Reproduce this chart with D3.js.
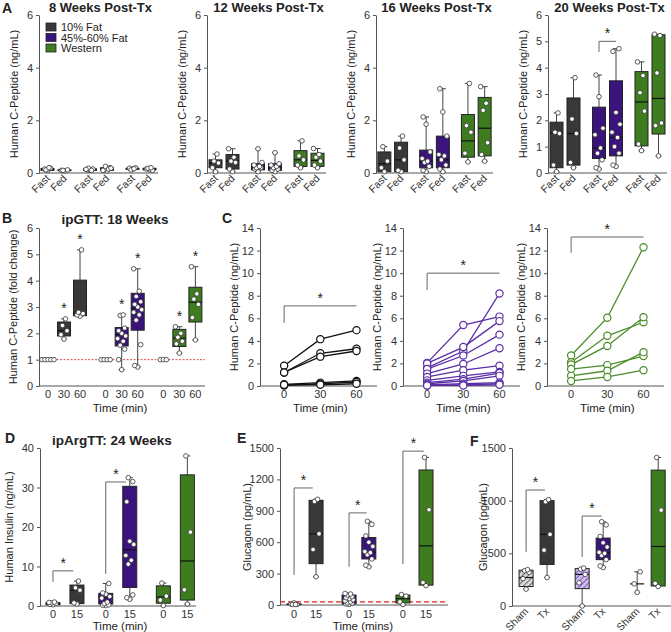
<!DOCTYPE html>
<html>
<head>
<meta charset="utf-8">
<script src="https://cdn.jsdelivr.net/npm/d3@7"></script>
<style>
  body { margin: 0; background: #fff; }
  svg { font-family: 'Liberation Sans', Arial, sans-serif; }
</style>
</head>
<body>
<div id="fig"></div>
<script>
// ---------------- data ----------------
const dietGroups = ['10% Fat', '45%-60% Fat', 'Western'];
const fastFed = ['Fast', 'Fed', 'Fast', 'Fed', 'Fast', 'Fed'];
const aTitles = ['8 Weeks Post-Tx', '12 Weeks Post-Tx', '16 Weeks Post-Tx', '20 Weeks Post-Tx'];

// box stats: [min, q1, median, q3, max] per box (Fast/Fed x 3 diets)
const a8Stats = [[0.08, 0.1, 0.14, 0.17, 0.2], [0.08, 0.09, 0.1, 0.12, 0.12], [0.08, 0.1, 0.13, 0.16, 0.18],
  [0.08, 0.1, 0.15, 0.2, 0.25], [0.12, 0.14, 0.16, 0.18, 0.2], [0.1, 0.12, 0.15, 0.18, 0.2]];
const a8Points = [[0.1, 0.15, 0.18, 0.12, 0.2], [0.08, 0.1, 0.12, 0.1], [0.1, 0.12, 0.15, 0.18, 0.1, 0.14],
  [0.08, 0.12, 0.2, 0.25, 0.15, 0.1, 0.18], [0.15, 0.18, 0.2, 0.12, 0.16], [0.12, 0.15, 0.1, 0.18, 0.2]];
const a12Stats = [[0.05, 0.2, 0.38, 0.5, 0.72], [0.05, 0.15, 0.45, 0.7, 0.92], [0.05, 0.12, 0.2, 0.35, 0.92],
  [0.05, 0.1, 0.2, 0.35, 0.77], [0.2, 0.25, 0.5, 0.85, 1.22], [0.2, 0.25, 0.48, 0.75, 0.93]];
const a12Points = [[0.05, 0.2, 0.38, 0.45, 0.72], [0.05, 0.15, 0.4, 0.45, 0.6, 0.92], [0.05, 0.15, 0.2, 0.2, 0.25, 0.3, 0.4, 0.92],
  [0.05, 0.1, 0.15, 0.2, 0.25, 0.3, 0.35, 0.77], [0.2, 0.3, 0.5, 0.65, 1.22], [0.2, 0.3, 0.45, 0.6, 0.7, 0.93]];
const a16Stats = [[0.05, 0.05, 0.35, 0.8, 1.0], [0.05, 0.05, 0.5, 1.17, 1.4], [0.05, 0.2, 0.45, 0.87, 2.13],
  [0.05, 0.2, 0.5, 1.4, 3.2], [0.42, 0.6, 1.22, 2.22, 3.4], [0.45, 0.65, 1.7, 2.87, 3.28]];
const a16Points = [[0.05, 0.2, 0.45, 1.0], [0.05, 0.1, 0.5, 0.95, 1.4], [0.05, 0.1, 0.25, 0.4, 0.45, 0.55, 0.8, 1.85, 2.13],
  [0.05, 0.15, 0.3, 0.5, 0.65, 0.7, 1.4, 2.32, 3.2], [0.42, 0.75, 1.55, 1.8, 3.4], [0.45, 0.7, 1.15, 2.38, 2.65, 3.28]];
const a20Stats = [[0.05, 0.2, 1.52, 1.93, 2.28], [0.2, 0.3, 1.5, 2.85, 3.62], [0.15, 0.55, 0.95, 2.5, 3.72],
  [0.25, 0.65, 1.35, 3.5, 4.72], [0.85, 1.03, 2.7, 3.85, 4.22], [0.65, 1.48, 2.83, 5.25, 5.27]];
const a20Points = [[0.05, 0.3, 1.5, 1.55, 2.28], [0.2, 0.4, 1.5, 2.05, 3.62], [0.15, 0.2, 0.5, 0.75, 0.95, 1.45, 1.7, 2.9, 3.72],
  [0.25, 0.3, 0.75, 1.0, 1.35, 1.55, 1.85, 2.3, 4.62, 4.72], [0.85, 1.1, 2.35, 3.05, 3.7, 4.22], [0.65, 1.8, 1.9, 3.8, 5.22, 5.27]];

// B: ipGTT fold change, times 0/30/60 for each diet
const bTimes = ['0', '30', '60'];
const bStats = [null, [1.78, 1.9, 2.1, 2.43, 2.55], [2.65, 2.67, 2.75, 4.02, 5.17],
  null, [0.62, 1.52, 1.95, 2.22, 2.7], [0.72, 2.12, 2.95, 3.52, 4.45],
  null, [1.25, 1.5, 1.82, 2.15, 2.25], [1.75, 2.43, 3.18, 3.75, 4.53]];
const bPoints = [[1, 1, 1, 1, 1], [1.78, 1.95, 2.1, 2.3, 2.55], [2.65, 2.7, 2.75, 2.8, 5.17],
  [1, 1, 1, 1], [0.62, 1.0, 1.4, 1.55, 1.7, 1.8, 1.9, 2.0, 2.1, 2.2, 2.68, 2.7], [0.72, 0.78, 1.57, 2.5, 2.7, 2.8, 2.9, 3.0, 3.1, 3.2, 3.4, 3.6, 4.45],
  [1, 1, 1], [1.25, 1.6, 1.7, 1.85, 2.0, 2.25], [1.75, 2.6, 3.1, 3.3, 3.5, 4.53]];

// C: individual C-peptide curves at 0/30/60 min
const cTimes = [0, 30, 60];
const c10Lines = [[1.8, 4.15, 4.95], [1.2, 2.9, 3.3], [1.2, 2.6, 3.1], [0.15, 0.3, 0.45], [0.05, 0.2, 0.35], [0.1, 0.1, 0.2]];
const c45Lines = [[2.05, 5.4, 6.15], [1.6, 3.1, 8.2], [2.0, 3.45, 5.75], [1.5, 2.7, 4.55], [1.1, 1.95, 3.35], [0.8, 1.4, 1.8],
  [0.5, 0.9, 1.25], [0.3, 0.6, 1.15], [0.2, 0.45, 0.9], [0.1, 0.2, 0.3], [0.05, 0.1, 0.2], [0.05, 0.05, 0.1]];
const cWLines = [[2.7, 6.05, 12.3], [2.1, 4.45, 5.65], [1.9, 3.55, 6.1], [1.5, 1.85, 2.65], [0.9, 1.35, 3.0], [0.45, 0.8, 1.4]];

// D: ipArgTT insulin, 0/15 min
const dTimes = ['0', '15', '0', '15', '0', '15'];
const dStats = [[0.3, 0.35, 0.6, 0.85, 1.0], [0.5, 0.6, 4.0, 5.3, 6.3], [0.1, 0.5, 2.3, 3.2, 5.7],
  [1.7, 4.7, 14.2, 30.3, 32.5], [0.1, 0.7, 2.3, 5.1, 5.8], [0.5, 1.5, 11.4, 33.2, 38]];
const dPoints = [[0.3, 0.4, 0.6, 0.8, 1.0, 0.9], [0.5, 0.8, 4.0, 4.6, 6.3], [0.1, 0.2, 0.3, 0.6, 1.0, 2.0, 2.4, 3.0, 3.3, 5.7],
  [1.7, 2.1, 2.8, 10.6, 11.6, 12.8, 15.6, 16.4, 26.4, 31.5, 32.5], [0.1, 1.5, 2.5, 5.8], [0.5, 4.1, 18.7, 38]];

// E: glucagon, 0/15 min
const eStats = [[5, 5, 5, 10, 20], [270, 395, 680, 1000, 1010], [5, 10, 45, 95, 110],
  [365, 440, 505, 645, 800], [5, 20, 60, 95, 100], [185, 190, 565, 1290, 1410]];
const ePoints = [[20, 8, 5, 5, 5], [270, 530, 680, 990, 1010], [5, 10, 15, 20, 30, 40, 50, 60, 70, 80, 95, 105, 110],
  [365, 380, 440, 480, 500, 510, 560, 600, 660, 770, 800], [5, 30, 85, 100], [185, 215, 910, 1410]];
const eThreshold = 30;

// F: glucagon sham vs Tx
const fLabels = ['Sham', 'Tx', 'Sham', 'Tx', 'Sham', 'Tx'];
const fStats = [[160, 185, 270, 340, 345], eStats[1], [0, 165, 300, 355, 360], eStats[3], [130, 210, 210, 210, 325], eStats[5]];
const fPoints = [[160, 260, 320, 335, 345], ePoints[1], [0, 220, 300, 350, 360], ePoints[3], [130, 210, 325], ePoints[5]];

// ---------------- style ----------------
const boxFill = ['#383838', '#3a137c', '#3e7d1f'];
const lineCol = ['#111111', '#5a2ea6', '#4a8d29'];
const axisCol = '#555';

const svg = d3.select('#fig').append('svg').attr('width', 671).attr('height', 632);

const defs = svg.append('defs');
[['hatchGrey', '#d9d9d9', '#4a4a4a'], ['hatchPurple', '#cdbbee', '#6a4aa8']].forEach(([id, bg, fg]) => {
  const p = defs.append('pattern').attr('id', id).attr('patternUnits', 'userSpaceOnUse')
    .attr('width', 4).attr('height', 4).attr('patternTransform', 'rotate(45)');
  p.append('rect').attr('width', 4).attr('height', 4).attr('fill', bg);
  p.append('line').attr('x1', 0).attr('y1', 0).attr('x2', 0).attr('y2', 4).attr('stroke', fg).attr('stroke-width', 1.6);
});

// ---------------- helpers ----------------
let text = (x, y, s, opts = {}) =>
  svg.append('text').attr('x', x).attr('y', y).text(s)
    .attr('font-size', opts.size || 11).attr('font-weight', opts.bold ? 'bold' : null)
    .attr('text-anchor', opts.anchor || 'start').attr('fill', opts.fill || '#222')
    .attr('transform', opts.rotate ? `rotate(${opts.rotate},${x},${y})` : null);

let yAxis = (x0, y, ticks, fmt) => {
  const g = svg.append('g').attr('transform', `translate(${x0},0)`)
    .call(d3.axisLeft(y).tickValues(ticks).tickSize(3).tickSizeOuter(0).tickFormat(fmt || d3.format('d')));
  g.select('.domain').attr('stroke', axisCol);
  g.selectAll('.tick line').attr('stroke', axisCol);
  g.selectAll('.tick text').attr('font-size', 11).attr('fill', '#333')
    .attr('font-family', "'Liberation Sans', Arial, sans-serif");
  return g;
};

let xLine = (x0, x1, yPix) =>
  svg.append('line').attr('x1', x0).attr('x2', x1).attr('y1', yPix).attr('y2', yPix)
    .attr('stroke', axisCol).attr('stroke-width', 1);

// deterministic horizontal spread of dots inside a box
const spread = [0, -3, 3, -1.5, 1.5, -4, 4];

let boxes = (x, slots, y, stats, points, fills, bw) => {
  const g = svg.append('g');
  stats.forEach((s, i) => {
    const cx = x(slots[i]);
    if (s) {
      const [mn, q1, md, q3, mx] = s;
      g.append('line').attr('x1', cx).attr('x2', cx).attr('y1', y(mn)).attr('y2', y(mx))
        .attr('stroke', '#444').attr('stroke-width', 1);
      [mn, mx].forEach((v) => g.append('line').attr('x1', cx - 3).attr('x2', cx + 3)
        .attr('y1', y(v)).attr('y2', y(v)).attr('stroke', '#444'));
      g.append('rect').attr('x', cx - bw / 2).attr('width', bw)
        .attr('y', y(q3)).attr('height', Math.max(0, y(q1) - y(q3)))
        .attr('fill', fills[i]).attr('stroke', '#222').attr('stroke-width', 1);
      g.append('line').attr('x1', cx - bw / 2).attr('x2', cx + bw / 2)
        .attr('y1', y(md)).attr('y2', y(md)).attr('stroke', '#111').attr('stroke-width', 1.2);
    }
    const pts = points[i];
    g.selectAll(null).data(pts).join('circle')
      .attr('cx', (d, k) => cx + (s ? spread[k % spread.length] : (k - (pts.length - 1) / 2) * 3))
      .attr('cy', (d) => y(d)).attr('r', 2.3)
      .attr('fill', '#fff').attr('stroke', '#333').attr('stroke-width', 0.8);
  });
};

let bracket = (xa, xb, yTop, yLeg) => {
  svg.append('path').attr('d', `M${xa},${yLeg}V${yTop}H${xb}`)
    .attr('fill', 'none').attr('stroke', '#666').attr('stroke-width', 1);
  text((xa + xb) / 2, yTop - 3, '*', { size: 14, anchor: 'middle' });
};

let rotatedTicks = (x, slots, labels, yPix) => {
  labels.forEach((l, i) => text(x(slots[i]) + 3, yPix + 6, l, { size: 10.5, anchor: 'end', rotate: -45, fill: '#333' }));
};

// ---------------- panel A ----------------
const aSlots = [0, 1, 2.5, 3.5, 5, 6];
const aStatsAll = [a8Stats, a12Stats, a16Stats, a20Stats];
const aPointsAll = [a8Points, a12Points, a16Points, a20Points];
const aAxisX = [[39, 158], [207, 326], [376, 493], [548, 667]];
const aY = d3.scaleLinear().domain([0, 6]).range([173, 15]);
const aFills = aSlots.map((s, i) => boxFill[Math.floor(i / 2)]);

text(2, 13, 'A', { size: 14, bold: true });
aAxisX.forEach(([x0, x1], p) => {
  const x = d3.scaleLinear().domain([-0.5, 6.5]).range([x0, x1]);
  yAxis(x0, aY, p === 3 ? [0, 1, 2, 3, 4, 5, 6] : [0, 2, 4, 6]);
  xLine(x0, x1, aY(0));
  boxes(x, aSlots, aY, aStatsAll[p], aPointsAll[p], aFills, 13);
  rotatedTicks(x, aSlots, fastFed, aY(0));
  text((x0 + x1) / 2 + 2, 12, aTitles[p], { size: 13, bold: true, anchor: 'middle' });
  text(x0 - 21, 94, 'Human C-Peptide (ng/mL)', { size: 11, anchor: 'middle', rotate: -90 });
  if (p === 3) bracket(x(2.5), x(3.5), aY(5.0), aY(4.6));
});
// legend
dietGroups.forEach((d, i) => {
  svg.append('rect').attr('x', 46).attr('y', 23 + i * 10.5).attr('width', 10).attr('height', 8)
    .attr('fill', boxFill[i]).attr('stroke', '#222').attr('stroke-width', 0.8);
  text(61, 31 + i * 10.5, d, { size: 11 });
});

// ---------------- panel B ----------------
const bSlots = [0, 1, 2, 3.6, 4.6, 5.6, 7.2, 8.2, 9.2];
const bX = d3.scaleLinear().domain([-0.56, 9.8]).range([39, 205]);
const bY = d3.scaleLinear().domain([0, 6]).range([386, 228]);
text(2, 223, 'B', { size: 14, bold: true });
text(115, 224, 'ipGTT: 18 Weeks', { size: 13.5, bold: true, anchor: 'middle' });
yAxis(39, bY, [0, 1, 2, 3, 4, 5, 6]);
xLine(39, 205, bY(0));
svg.append('line').attr('x1', 39).attr('x2', 205).attr('y1', bY(1)).attr('y2', bY(1))
  .attr('stroke', '#d33').attr('stroke-width', 0.9).attr('stroke-dasharray', '2,1.5');
boxes(bX, bSlots, bY, bStats, bPoints, bSlots.map((s, i) => boxFill[Math.floor(i / 3)]), 13);
bSlots.forEach((s, i) => {
  text(bX(s), 398, bTimes[i % 3], { size: 11, anchor: 'middle', fill: '#333' });
  if (bStats[i]) text(bX(s), bY(bStats[i][4]) - 6, '*', { size: 14, anchor: 'middle' });
});
text(120, 412, 'Time (min)', { size: 11.5, anchor: 'middle' });
text(17, 307, 'Human C-Peptide (fold change)', { size: 11, anchor: 'middle', rotate: -90 });

// ---------------- panel C ----------------
const cY = d3.scaleLinear().domain([0, 14]).range([386, 228]);
const cAxes = [260, 403, 547];
const cAll = [c10Lines, c45Lines, cWLines];
const cBr = [[7.1, 5.6], [10.0, 8.5], [13.2, 11.8]];
text(222, 223, 'C', { size: 14, bold: true });
cAxes.forEach((x0, p) => {
  const x = d3.scaleLinear().domain([-20, 77]).range([x0, x0 + 117]);
  yAxis(x0, cY, [0, 2, 4, 6, 8, 10, 12, 14]);
  xLine(x0, x0 + 117, cY(0));
  const line = d3.line().x((d, i) => x(cTimes[i])).y((d) => cY(d));
  const g = svg.append('g');
  cAll[p].forEach((vals) => {
    g.append('path').attr('d', line(vals)).attr('fill', 'none')
      .attr('stroke', lineCol[p]).attr('stroke-width', 1.3);
  });
  cAll[p].forEach((vals) => {
    g.selectAll(null).data(vals).join('circle')
      .attr('cx', (d, i) => x(cTimes[i])).attr('cy', (d) => cY(d)).attr('r', 3.6)
      .attr('fill', '#fff').attr('stroke', lineCol[p]).attr('stroke-width', 1.2);
  });
  cTimes.forEach((t) => text(x(t), 398, t, { size: 11, anchor: 'middle', fill: '#333' }));
  text(x(30), 412, 'Time (min)', { size: 11.5, anchor: 'middle' });
  text(x0 - 22, 307, 'Human C-Peptide (ng/mL)', { size: 11, anchor: 'middle', rotate: -90 });
  bracket(x(0), x(60), cY(cBr[p][0]), cY(cBr[p][1]));
});

// ---------------- panel D ----------------
const dSlots = [0, 1, 2.2, 3.2, 4.6, 5.6];
const dX = d3.scaleLinear().domain([-0.54, 5.96]).range([40, 196]);
const dY = d3.scaleLinear().domain([0, 40]).range([606, 448]);
const pairFills = dSlots.map((s, i) => boxFill[Math.floor(i / 2)]);
text(5, 443, 'D', { size: 14, bold: true });
text(112, 445, 'ipArgTT: 24 Weeks', { size: 13.5, bold: true, anchor: 'middle' });
yAxis(40, dY, [0, 10, 20, 30, 40]);
xLine(40, 196, dY(0));
boxes(dX, dSlots, dY, dStats, dPoints, pairFills, 14);
dSlots.forEach((s, i) => text(dX(s), 618, dTimes[i], { size: 11, anchor: 'middle', fill: '#333' }));
text(120, 630, 'Time (min)', { size: 11.5, anchor: 'middle' });
text(13, 527, 'Human Insulin (ng/mL)', { size: 11, anchor: 'middle', rotate: -90 });
bracket(dX(0), dX(0.85), dY(8.9), dY(6.1));
bracket(dX(2.2), dX(3.05), dY(31.4), dY(8.1));

// ---------------- panel E ----------------
const eSlots = [0, 1, 2.5, 3.4, 4.95, 6];
const eX = d3.scaleLinear().domain([-0.64, 7.0]).range([280, 448]);
const eY = d3.scaleLinear().domain([0, 1500]).range([605, 448]);
text(237, 443, 'E', { size: 14, bold: true });
yAxis(280, eY, [0, 300, 600, 900, 1200, 1500]);
xLine(280, 448, eY(0));
svg.append('line').attr('x1', 280).attr('x2', 448).attr('y1', eY(eThreshold)).attr('y2', eY(eThreshold))
  .attr('stroke', '#e02020').attr('stroke-width', 1.2).attr('stroke-dasharray', '5,3');
boxes(eX, eSlots, eY, eStats, ePoints, pairFills, 14);
eSlots.forEach((s, i) => text(eX(s), 618, dTimes[i], { size: 11, anchor: 'middle', fill: '#333' }));
text(363, 630, 'Time (mins)', { size: 11.5, anchor: 'middle' });
text(251, 527, 'Glucagon (pg/mL)', { size: 11, anchor: 'middle', rotate: -90 });
bracket(eX(0), eX(0.85), eY(1118), eY(287));
bracket(eX(2.5), eX(3.3), eY(880), eY(365));
bracket(eX(4.95), eX(5.9), eY(1470), eY(390));

// ---------------- panel F ----------------
const fSlots = [0, 1, 2.67, 3.67, 5.29, 6.29];
const fX = d3.scaleLinear().domain([-0.67, 6.9]).range([512, 671]);
const fY = d3.scaleLinear().domain([0, 1500]).range([606, 448]);
const fFills = ['url(#hatchGrey)', boxFill[0], 'url(#hatchPurple)', boxFill[1], 'none', boxFill[2]];
text(470, 446, 'F', { size: 14, bold: true });
yAxis(512, fY, [0, 500, 1000, 1500]);
xLine(512, 671, fY(0));
boxes(fX, fSlots, fY, fStats, fPoints, fFills, 14);
rotatedTicks(fX, fSlots, fLabels, fY(0));
text(487, 527, 'Glucagon (pg/mL)', { size: 11, anchor: 'middle', rotate: -90 });
bracket(fX(0), fX(0.9), fY(1101), fY(513));
bracket(fX(2.67), fX(3.6), fY(854), fY(465));
</script>
</body>
</html>
